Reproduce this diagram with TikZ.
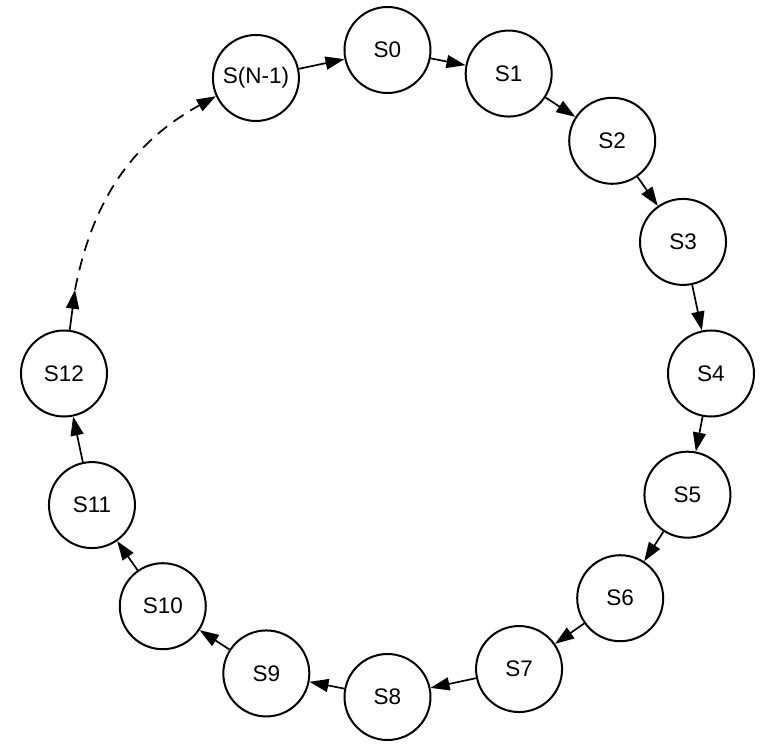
\documentclass[tikz,border=0pt]{standalone}
\usepackage{fontspec}
\setmainfont{Liberation Sans}
\usetikzlibrary{arrows.meta}

\begin{document}
\begin{tikzpicture}[
    x=1pt, y=1pt,
    state/.style={circle, draw, line width=2pt, minimum size=86pt, inner sep=0pt, font=\fontsize{22.5}{27}\selectfont},
    transition/.style={-{Triangle[length=19pt,width=13pt]}, line width=1.7pt},
    skipped/.style={transition, dash pattern=on 12pt off 8pt}
]

\useasboundingbox (-387.5,-381.5) rectangle (389.5,373.5);

\node[state] (s0) at (90:323.5pt) {S0};
\node[state] (s1) at (68:323.5pt) {S1};
\node[state] (s2) at (46:323.5pt) {S2};
\node[state] (s3) at (24:323.5pt) {S3};
\node[state] (s4) at (0:323.5pt) {S4};
\node[state] (s5) at (-22:323.5pt) {S5};
\node[state] (s6) at (-44:323.5pt) {S6};
\node[state] (s7) at (-66:323.5pt) {S7};
\node[state] (s8) at (-90:323.5pt) {S8};
\node[state] (s9) at (-112:323.5pt) {S9};
\node[state] (s10) at (-134:323.5pt) {S10};
\node[state] (s11) at (-156:323.5pt) {S11};
\node[state] (s12) at (180:323.5pt) {S12};
\node[state] (sn1) at (114:323.5pt) {S(N-1)};
\coordinate (gap) at (165:323.5pt);

\draw[transition] (sn1) -- (s0);
\draw[transition] (s0) -- (s1);
\draw[transition] (s1) -- (s2);
\draw[transition] (s2) -- (s3);
\draw[transition] (s3) -- (s4);
\draw[transition] (s4) -- (s5);
\draw[transition] (s5) -- (s6);
\draw[transition] (s6) -- (s7);
\draw[transition] (s7) -- (s8);
\draw[transition] (s8) -- (s9);
\draw[transition] (s9) -- (s10);
\draw[transition] (s10) -- (s11);
\draw[transition] (s11) -- (s12);
\draw[transition] (s12) -- (gap);
\draw[skipped] (gap) to[bend left=25] (sn1);

\end{tikzpicture}
\end{document}
